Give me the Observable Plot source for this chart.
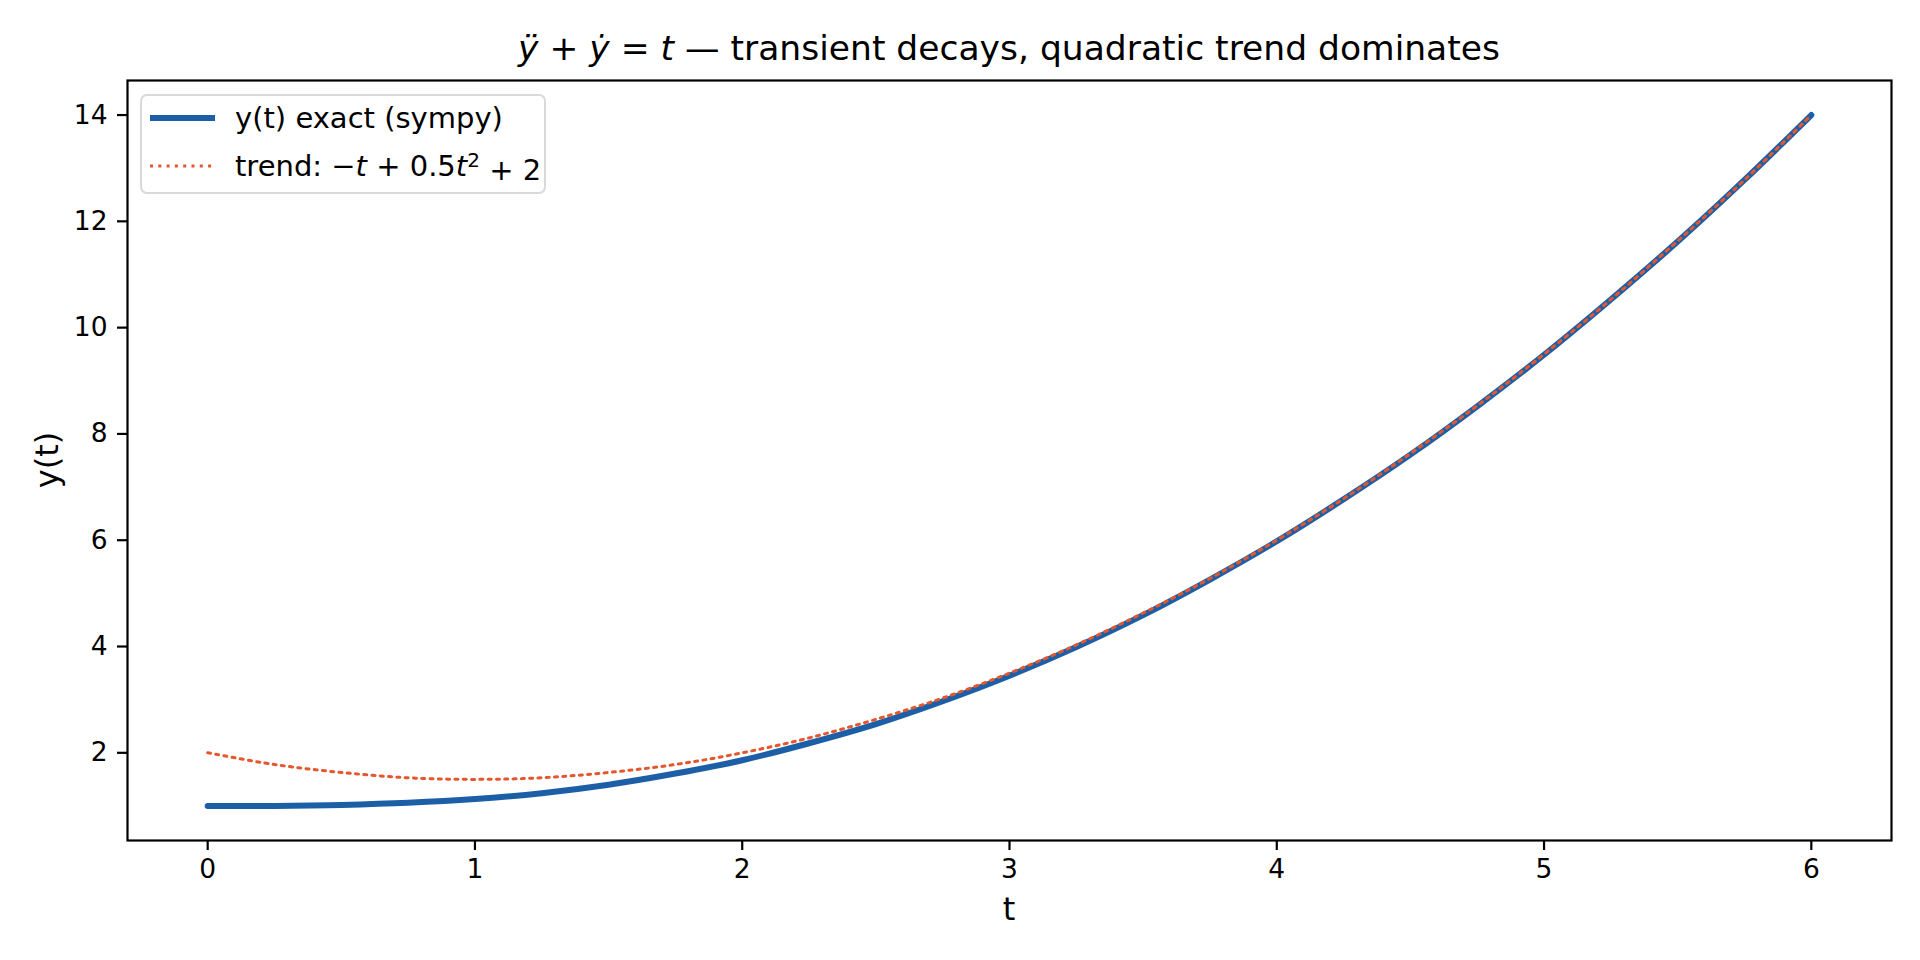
<!DOCTYPE html>
<html>
<head>
<meta charset="utf-8">
<script src="https://cdn.jsdelivr.net/npm/d3@7"></script>
<script src="https://cdn.jsdelivr.net/npm/@observablehq/plot@0.6"></script>
<style>
  html, body { margin: 0; padding: 0; background: #fff; }
  #chart { width: 1920px; height: 960px; }
  svg { font-family: "DejaVu Sans", sans-serif; }
</style>
</head>
<body>
<div id="chart"></div>
<script>
// Sample times (t)
const tValues = [0, 0.25, 0.5, 0.75, 1, 1.25, 1.5, 1.75, 2, 2.25, 2.5, 2.75, 3, 3.25, 3.5, 3.75, 4, 4.25, 4.5, 4.75, 5, 5.25, 5.5, 5.75, 6];
// y(t) exact (sympy)
const exactValues = [1.00, 1.00, 1.02, 1.06, 1.13, 1.24, 1.40, 1.61, 1.86, 2.18, 2.54, 2.97, 3.45, 3.99, 4.59, 5.26, 5.98, 6.77, 7.61, 8.52, 9.49, 10.53, 11.62, 12.78, 14.00];
// trend: -t + 0.5 t^2 + 2
const trendValues = [2.00, 1.78, 1.63, 1.53, 1.50, 1.53, 1.63, 1.78, 2.00, 2.28, 2.63, 3.03, 3.50, 4.03, 4.63, 5.28, 6.00, 6.78, 7.63, 8.53, 9.50, 10.53, 11.63, 12.78, 14.00];
const xTicks = [0, 1, 2, 3, 4, 5, 6];
const yTicks = [2, 4, 6, 8, 10, 12, 14];
const seriesNames = ["y(t) exact (sympy)", "trend"];

const exactData = tValues.map((t, i) => ({t, y: exactValues[i]}));
const trendData = tValues.map((t, i) => ({t, y: trendValues[i]}));

const blue = "#1c5fa6";
const orange = "#e4572e";

const W = 1920, H = 960;
const mL = 127, mR = 29, mT = 80, mB = 120;

const plot = Plot.plot({
  width: W,
  height: H,
  marginLeft: mL,
  marginRight: mR,
  marginTop: mT,
  marginBottom: mB,
  style: {fontFamily: "'DejaVu Sans', sans-serif", fontSize: "26.5px", color: "#000", background: "#fff"},
  x: {domain: [-0.3, 6.3], ticks: xTicks, label: null, tickFormat: d3.format("d")},
  y: {domain: [0.35, 14.65], ticks: yTicks, label: null, tickFormat: d3.format("d")},
  marks: [
    Plot.line(exactData, {x: "t", y: "y", stroke: blue, strokeWidth: 6, curve: "catmull-rom"}),
    Plot.line(trendData, {x: "t", y: "y", stroke: orange, strokeWidth: 3, strokeDasharray: "3,5.3", curve: "catmull-rom"}),
    Plot.frame({stroke: "#000", strokeWidth: 2.2}),
    Plot.axisX({ticks: xTicks, tickSize: 10, tickPadding: 9, strokeWidth: 2.2, label: null, tickFormat: d3.format("d")}),
    Plot.axisY({ticks: yTicks, tickSize: 10, tickPadding: 10, strokeWidth: 2.2, label: null, tickFormat: d3.format("d")})
  ]
});

document.getElementById("chart").appendChild(plot);

const svg = d3.select(plot);
const cx = mL + (W - mL - mR) / 2;

// Title
const title = svg.append("text")
  .attr("x", cx).attr("y", 60)
  .attr("text-anchor", "middle")
  .style("font-size", "34.5px")
  .attr("fill", "#000");
title.append("tspan").attr("font-style", "italic").text("\u00ff");
title.append("tspan").text(" + ");
title.append("tspan").attr("font-style", "italic").text("\u1e8f");
title.append("tspan").text(" = ");
title.append("tspan").attr("font-style", "italic").text("t");
title.append("tspan").text(" \u2014 transient decays, quadratic trend dominates");

// Axis labels
svg.append("text")
  .attr("x", cx).attr("y", 920)
  .attr("text-anchor", "middle")
  .style("font-size", "32px")
  .attr("fill", "#000")
  .text("t");
svg.append("text")
  .attr("transform", `translate(58,${mT + (H - mT - mB) / 2}) rotate(-90)`)
  .attr("text-anchor", "middle")
  .style("font-size", "32px")
  .attr("fill", "#000")
  .text("y(t)");

// Legend
const lg = svg.append("g").attr("text-anchor", "start");
lg.append("rect")
  .attr("x", 141).attr("y", 95).attr("width", 404).attr("height", 98)
  .attr("rx", 6).attr("fill", "#fff").attr("fill-opacity", 0.8)
  .attr("stroke", "#d9d9d9").attr("stroke-width", 2);
lg.append("line").attr("x1", 150).attr("x2", 215).attr("y1", 118).attr("y2", 118)
  .attr("stroke", blue).attr("stroke-width", 6);
lg.append("line").attr("x1", 150).attr("x2", 215).attr("y1", 166).attr("y2", 166)
  .attr("stroke", orange).attr("stroke-width", 3).attr("stroke-dasharray", "3,5.3");
lg.append("text").attr("x", 235).attr("y", 118).attr("dy", "0.35em")
  .attr("text-anchor", "start")
  .style("font-size", "29px").attr("fill", "#000").text(seriesNames[0]);
const t2 = lg.append("text").attr("x", 235).attr("y", 166).attr("dy", "0.35em")
  .attr("text-anchor", "start")
  .style("font-size", "29px").attr("fill", "#000");
t2.append("tspan").text(seriesNames[1] + ": \u2212");
t2.append("tspan").attr("font-style", "italic").text("t");
t2.append("tspan").text(" + 0.5");
t2.append("tspan").attr("font-style", "italic").text("t");
t2.append("tspan").attr("dy", "-0.45em").style("font-size", "20px").text("2");
t2.append("tspan").attr("dy", "0.45em").text(" + 2");
</script>
</body>
</html>
